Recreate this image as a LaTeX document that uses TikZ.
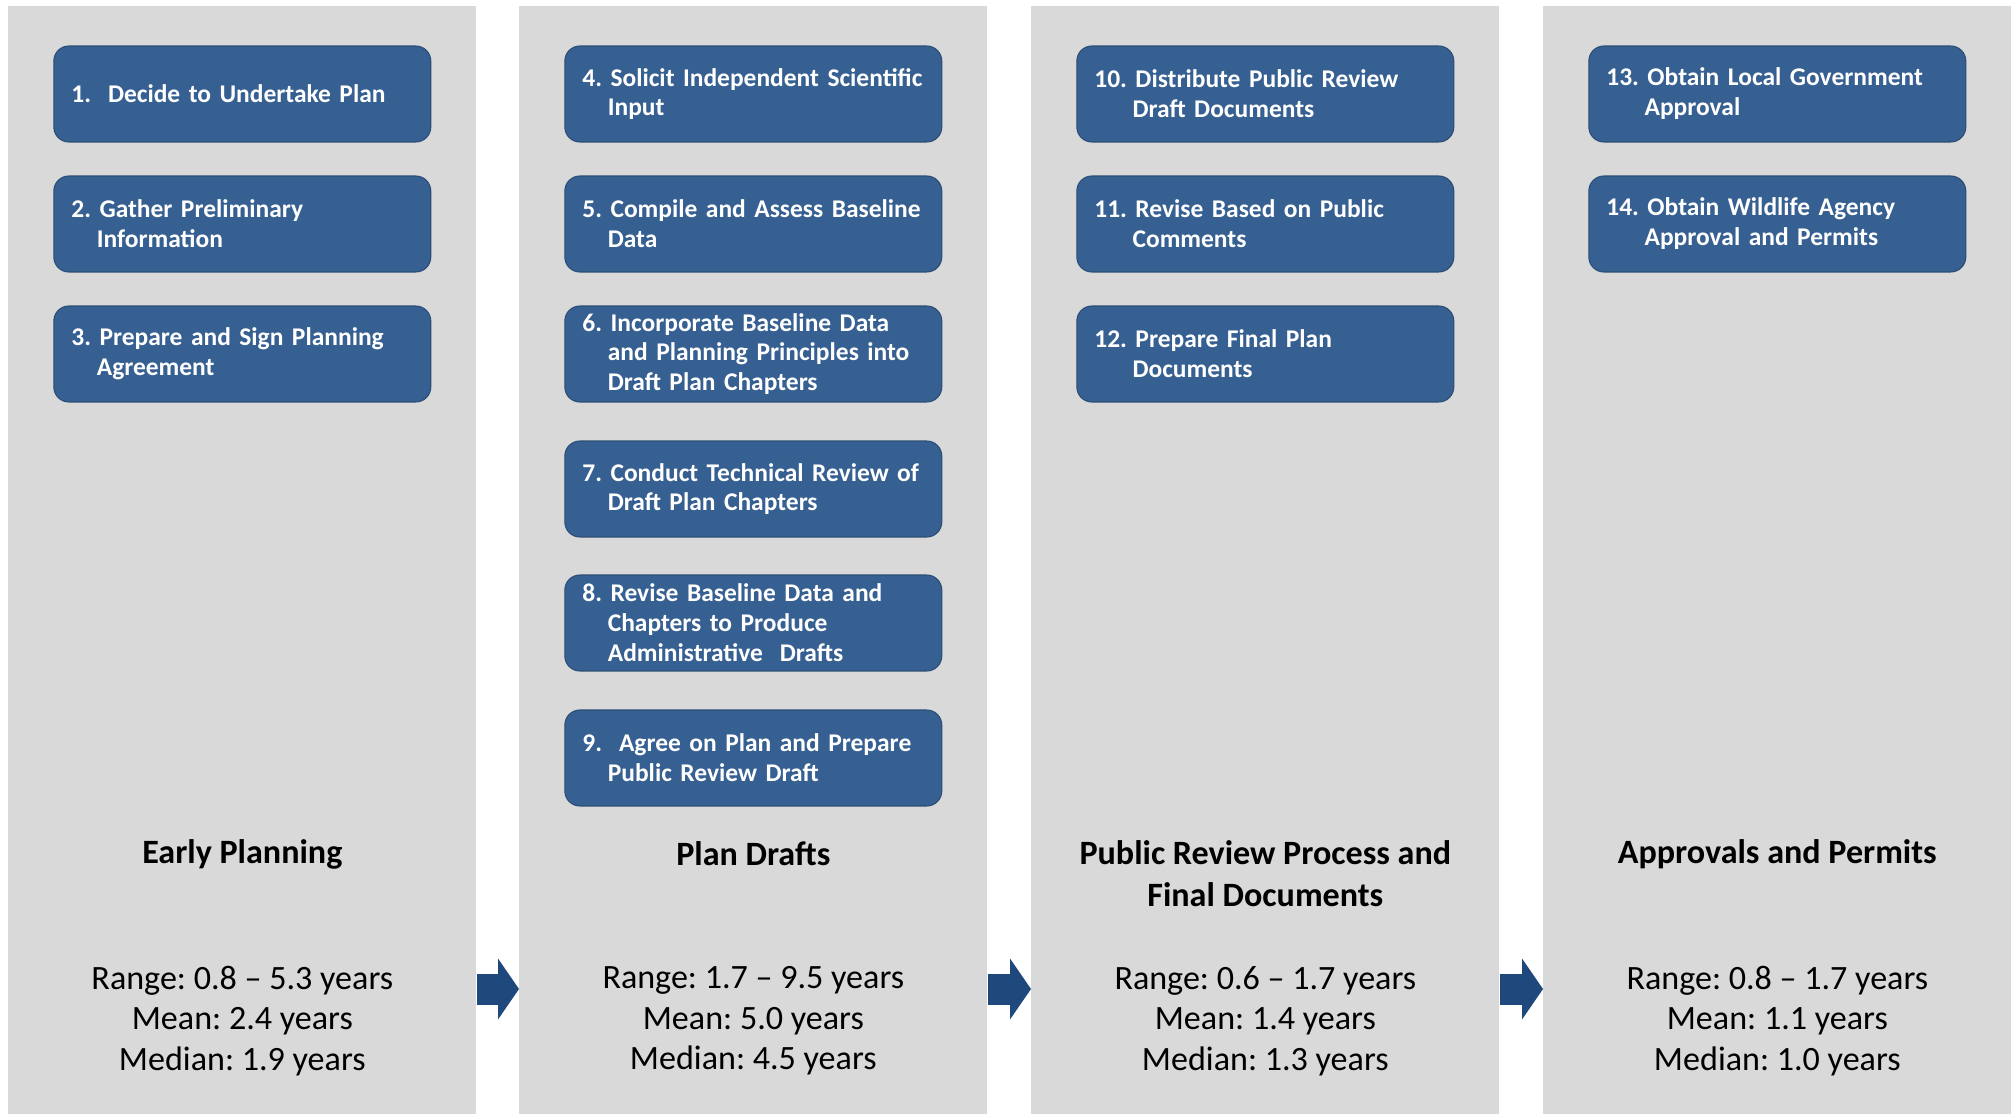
\documentclass[tikz,border=0pt]{standalone}
\usepackage{fontspec}
\setmainfont{Carlito}
\usetikzlibrary{arrows.meta}
\definecolor{colgray}{HTML}{D9D9D9}
\definecolor{boxblue}{HTML}{376092}
\definecolor{boxedge}{HTML}{2C4D75}
\definecolor{arrowblue}{HTML}{1F497D}
\frenchspacing
\hyphenpenalty=10000

\begin{document}
\begin{tikzpicture}[x = 0.02cm, y = -0.02cm,
    column/.style = {fill = colgray, inner sep = 0, anchor = north west,
      minimum width = 9.36cm, minimum height = 22.16cm},
    stepbox/.style = {draw = boxedge, line width = 0.6pt, fill = boxblue,
      rounded corners = 0.3cm, text = white, align = left,
      font = \bfseries\fontsize{14.5}{17}\selectfont,
      minimum width = 7.54cm, minimum height = 1.92cm,
      text width = 6.84cm, inner xsep = 0.35cm},
    phase/.style = {font = \bfseries\fontsize{19.4}{23.8}\selectfont, align = center},
    stats/.style = {font = \fontsize{19.4}{23}\selectfont, align = center},
    flow/.style = {arrowblue, line width = 0.62cm,
      -{Triangle[length = 0.42cm, width = 1.22cm, line width = 0pt]}}
    ]
    \useasboundingbox (0,0) rectangle (2013,1114);
    % phase columns
    \node[column] (early) at (8,6) {};
    \node[column] (drafts) at (519,6) {};
    \node[column] (review) at (1031,6) {};
    \node[column] (approval) at (1543,6) {};

    % early planning
    \node[stepbox] (s1) at (early.north |- 0,94) {1.\ \ Decide to Undertake Plan};
    \node[stepbox] (s2) at (early.north |- 0,224) {2. Gather Preliminary\\\hspace*{1em}Information};
    \node[stepbox] (s3) at (early.north |- 0,354) {3. Prepare and Sign Planning\\\hspace*{1em}Agreement};

    % plan drafts
    \node[stepbox] (s4) at (drafts.north |- 0,94) {4. Solicit Independent Scientific\\\hspace*{1em}Input};
    \node[stepbox] (s5) at (drafts.north |- 0,224) {5. Compile and Assess Baseline\\\hspace*{1em}Data};
    \node[stepbox] (s6) at (drafts.north |- 0,354) {6. Incorporate Baseline Data\\\hspace*{1em}and Planning Principles into\\\hspace*{1em}Draft Plan Chapters};
    \node[stepbox] (s7) at (drafts.north |- 0,489) {7. Conduct Technical Review of\\\hspace*{1em}Draft Plan Chapters};
    \node[stepbox] (s8) at (drafts.north |- 0,623) {8. Revise Baseline Data and\\\hspace*{1em}Chapters to Produce\\\hspace*{1em}Administrative\ \ Drafts};
    \node[stepbox] (s9) at (drafts.north |- 0,758) {9.\ \ Agree on Plan and Prepare\\\hspace*{1em}Public Review Draft};

    % public review
    \node[stepbox] (s10) at (review.north |- 0,94) {10. Distribute Public Review\\\hspace*{1.5em}Draft Documents};
    \node[stepbox] (s11) at (review.north |- 0,224) {11. Revise Based on Public\\\hspace*{1.5em}Comments};
    \node[stepbox] (s12) at (review.north |- 0,354) {12. Prepare Final Plan\\\hspace*{1.5em}Documents};

    % approvals
    \node[stepbox] (s13) at (approval.north |- 0,94) {13. Obtain Local Government\\\hspace*{1.5em}Approval};
    \node[stepbox] (s14) at (approval.north |- 0,224) {14. Obtain Wildlife Agency\\\hspace*{1.5em}Approval and Permits};

    % phase titles and durations
    \node[phase] (t1) at (early.north |- 0,854) {Early Planning};
    \node[phase] (t2) at (drafts.north |- 0,854) {Plan Drafts};
    \node[phase] (t3) at (review.north |- 0,874) {Public Review Process and\\Final Documents};
    \node[phase] (t4) at (approval.north |- 0,854) {Approvals and Permits};

    \node[stats] (d1) at (early.north |- 0,1021) {Range: 0.8 – 5.3 years\\Mean: 2.4 years\\Median: 1.9 years};
    \node[stats] (d2) at (drafts.north |- 0,1021) {Range: 1.7 – 9.5 years\\Mean: 5.0 years\\Median: 4.5 years};
    \node[stats] (d3) at (review.north |- 0,1021) {Range: 0.6 – 1.7 years\\Mean: 1.4 years\\Median: 1.3 years};
    \node[stats] (d4) at (approval.north |- 0,1021) {Range: 0.8 – 1.7 years\\Mean: 1.1 years\\Median: 1.0 years};

    % arrows between phases
    \draw[flow] (early.east |- 0,989) -- (drafts.west |- 0,989);
    \draw[flow] (drafts.east |- 0,989) -- (review.west |- 0,989);
    \draw[flow] (review.east |- 0,989) -- (approval.west |- 0,989);
\end{tikzpicture}
\end{document}
